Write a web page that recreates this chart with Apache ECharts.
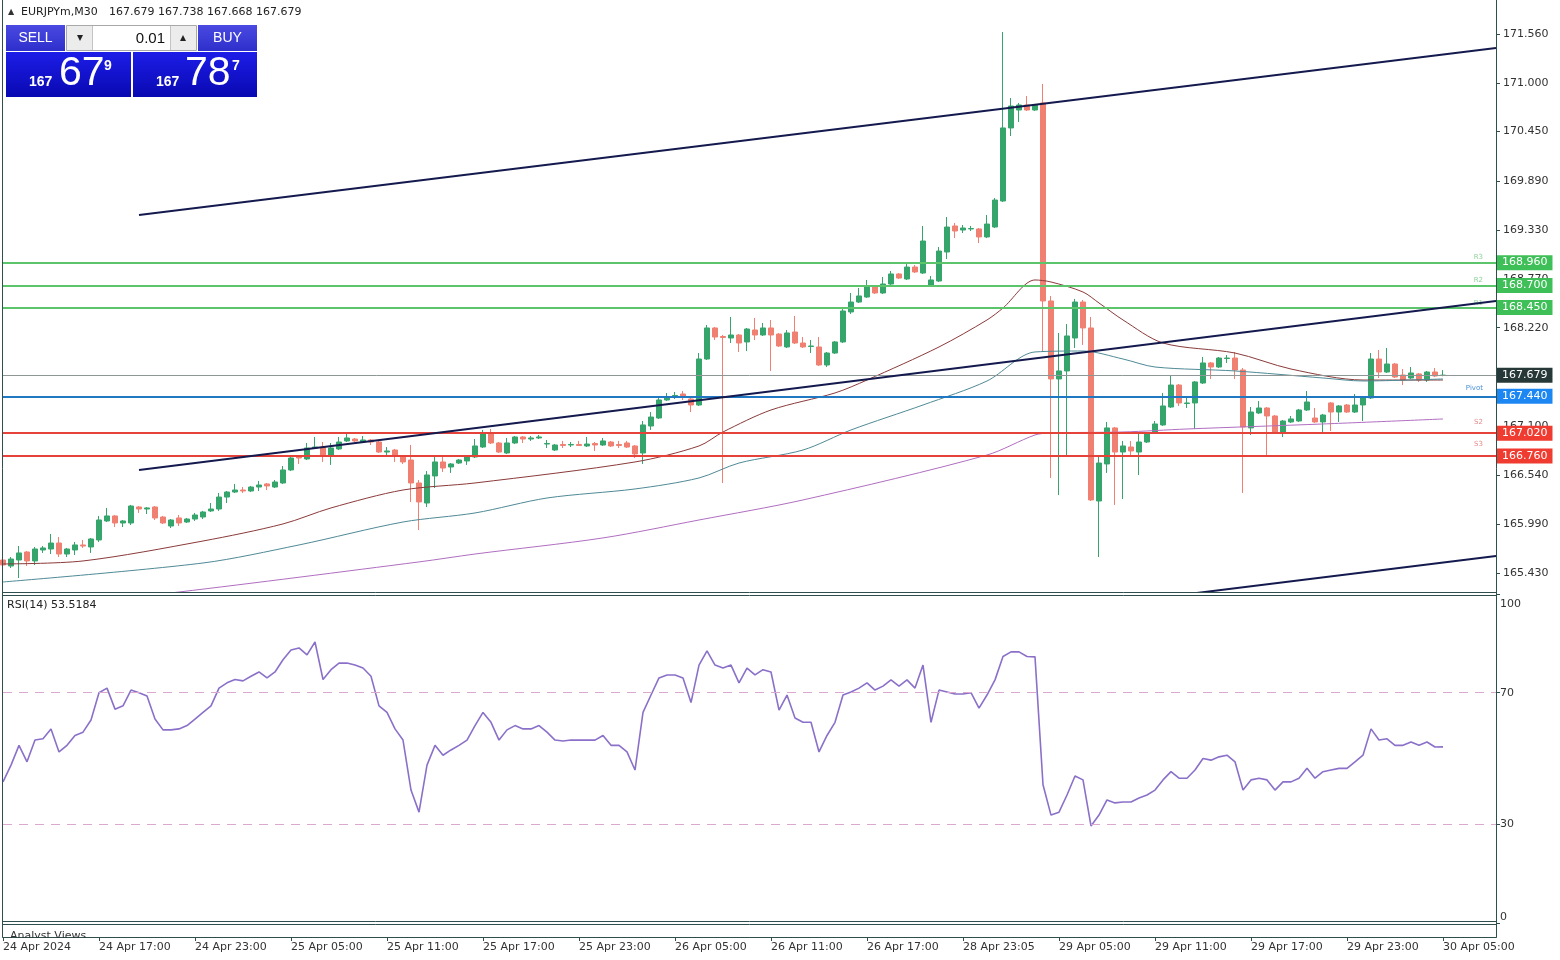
<!DOCTYPE html>
<html><head><meta charset="utf-8">
<script src="https://cdn.jsdelivr.net/npm/echarts@6/dist/echarts.min.js"></script>
<style>html,body{margin:0;padding:0;background:#fff}#chart{width:1560px;height:960px}</style>
</head><body><div id="chart"></div>
<script>
// ---- data ----
const symbol = 'EURJPYm,M30';
const bid = 167.679, ask = 167.787, lot = '0.01';
// candles: [open, close, low, high], one per 30-minute bar
const candles = [
[165.578,165.521,165.499,165.612],[165.510,165.589,165.487,165.612],[165.578,165.658,165.373,165.737],[165.669,165.567,165.510,165.680],
[165.567,165.703,165.521,165.726],[165.692,165.715,165.658,165.737],[165.703,165.771,165.646,165.874],[165.771,165.646,165.612,165.840],
[165.646,165.703,165.612,165.715],[165.692,165.749,165.635,165.783],[165.749,165.737,165.715,165.806],[165.726,165.817,165.658,165.828],
[165.806,166.033,165.783,166.079],[166.022,166.079,166.010,166.170],[166.079,165.999,165.953,166.090],[165.999,166.022,165.953,166.033],
[165.999,166.192,165.976,166.204],[166.181,166.158,166.113,166.192],[166.158,166.170,166.101,166.181],[166.181,166.056,166.033,166.192],
[166.067,165.999,165.988,166.079],[165.965,166.033,165.942,166.044],[166.056,165.999,165.965,166.090],[166.010,166.044,165.999,166.056],
[166.044,166.090,166.022,166.113],[166.067,166.124,166.044,166.136],[166.136,166.158,166.124,166.226],[166.158,166.294,166.136,166.340],
[166.294,166.351,166.226,166.363],[166.351,166.374,166.340,166.443],[166.374,166.363,166.340,166.408],[166.363,166.408,166.351,166.420],
[166.408,166.431,166.363,166.477],[166.443,166.420,166.374,166.454],[166.408,166.465,166.397,166.488],[166.454,166.602,166.443,166.647],
[166.602,166.738,166.590,166.750],[166.750,166.738,166.670,166.761],[166.727,166.852,166.715,166.909],[166.852,166.863,166.841,166.977],
[166.863,166.761,166.693,166.920],[166.772,166.852,166.659,166.909],[166.841,166.920,166.829,166.977],[166.932,166.966,166.920,167.023],
[166.954,166.932,166.920,166.966],[166.920,166.943,166.909,166.988],[166.943,166.920,166.886,166.954],[166.920,166.806,166.795,166.932],
[166.806,166.818,166.750,166.863],[166.829,166.761,166.693,166.841],[166.750,166.693,166.670,166.772],[166.715,166.454,166.238,166.886],
[166.454,166.238,165.919,166.488],[166.226,166.545,166.181,166.590],[166.534,166.693,166.397,166.750],[166.693,166.624,166.579,166.750],
[166.636,166.670,166.568,166.681],[166.681,166.715,166.670,166.727],[166.704,166.750,166.659,166.761],[166.750,166.875,166.738,166.954],
[166.863,167.023,166.852,167.057],[167.023,166.909,166.897,167.068],[166.909,166.806,166.795,166.920],[166.795,166.909,166.784,166.966],
[166.909,166.977,166.897,166.988],[166.977,166.954,166.909,166.988],[166.954,166.966,166.932,166.988],[166.966,166.977,166.954,167.000],
[166.897,166.903,166.852,166.943],[166.829,166.886,166.818,166.897],[166.892,166.880,166.852,166.932],[166.886,166.892,166.863,166.920],
[166.892,166.880,166.875,166.932],[166.875,166.897,166.863,166.977],[166.903,166.886,166.818,166.920],[166.886,166.932,166.875,166.966],
[166.920,166.875,166.863,166.932],[166.892,166.880,166.852,166.932],[166.909,166.863,166.852,166.932],[166.875,166.784,166.738,166.886],
[166.795,167.114,166.670,167.159],[167.102,167.204,167.057,167.261],[167.193,167.398,167.182,167.421],[167.398,167.432,167.386,167.477],
[167.443,167.449,167.409,167.489],[167.466,167.432,167.398,167.500],[167.409,167.341,167.261,167.421],[167.341,167.864,167.330,167.932],
[167.864,168.217,167.853,168.251],[168.217,168.114,168.080,168.228],[168.120,168.109,166.454,168.137],[168.103,168.137,168.046,168.342],
[168.137,168.046,167.944,168.148],[168.058,168.205,167.955,168.217],[168.194,168.137,168.080,168.330],[168.137,168.217,168.126,168.274],
[168.217,168.137,167.728,168.308],[168.148,168.012,168.001,168.160],[168.001,168.160,167.989,168.194],[168.171,168.046,168.035,168.353],
[168.046,168.001,167.989,168.114],[168.006,168.012,167.932,168.080],[168.001,167.796,167.785,168.114],[167.796,167.932,167.773,167.944],
[167.932,168.058,167.921,168.069],[168.058,168.410,168.046,168.456],[168.399,168.512,168.376,168.615],[168.512,168.581,168.501,168.672],
[168.569,168.683,168.558,168.763],[168.683,168.615,168.603,168.694],[168.615,168.717,168.603,168.797],[168.717,168.831,168.706,168.865],
[168.831,168.785,168.774,168.842],[168.774,168.910,168.763,168.945],[168.910,168.854,168.842,168.933],[168.842,169.206,168.831,169.377],
[168.706,168.763,168.694,168.808],[168.751,169.092,168.740,169.138],[169.081,169.365,169.001,169.479],[169.377,169.320,169.240,169.411],
[169.331,169.354,169.297,169.388],[169.343,169.348,169.320,169.377],[169.343,169.252,169.183,169.354],[169.252,169.399,169.240,169.502],
[169.365,169.672,169.354,169.695],[169.661,170.492,169.650,171.583],[170.492,170.741,170.400,170.832],[170.696,170.753,170.560,170.776],
[170.753,170.696,170.685,170.855],[170.696,170.753,170.685,170.764],[170.776,168.524,167.944,170.992],[168.524,167.637,166.511,168.581],
[167.637,167.728,166.317,168.160],[167.728,168.126,166.750,168.262],[168.103,168.512,167.989,168.547],[168.512,168.217,168.024,168.535],
[168.217,166.261,166.249,168.342],[166.249,166.681,165.612,166.772],[166.670,167.080,166.568,167.148],[167.080,166.806,166.204,167.091],
[166.806,166.875,166.272,166.932],[166.863,166.818,166.761,166.932],[166.806,166.920,166.545,167.023],[166.920,167.023,166.909,167.034],
[167.034,167.125,167.011,167.159],[167.114,167.330,167.102,167.478],[167.318,167.568,167.307,167.671],[167.568,167.364,167.330,167.580],
[167.358,167.364,167.307,167.421],[167.364,167.603,167.068,167.614],[167.591,167.819,167.580,167.887],[167.819,167.773,167.637,167.830],
[167.773,167.875,167.762,167.887],[167.870,167.875,167.819,167.909],[167.875,167.739,167.637,167.944],[167.739,167.091,166.340,167.762],
[167.080,167.261,167.000,167.318],[167.250,167.307,167.239,167.386],[167.307,167.216,166.761,167.318],[167.216,167.034,167.023,167.227],
[167.034,167.159,166.977,167.170],[167.148,167.182,167.136,167.216],[167.159,167.284,167.148,167.296],[167.284,167.375,167.273,167.500],
[167.193,167.148,167.136,167.307],[167.148,167.227,167.034,167.239],[167.364,167.261,167.045,167.375],[167.261,167.330,167.148,167.341],
[167.341,167.261,167.250,167.352],[167.261,167.341,167.250,167.466],[167.341,167.421,167.159,167.432],[167.421,167.864,167.409,167.932],
[167.864,167.716,167.648,167.966],[167.716,167.807,167.705,167.989],[167.807,167.659,167.648,167.819],[167.682,167.625,167.568,167.750],
[167.648,167.705,167.637,167.773],[167.694,167.625,167.603,167.705],[167.625,167.716,167.603,167.728],[167.716,167.671,167.659,167.762],
[167.679,167.679,167.668,167.738]
];
// RSI(14) per bar
const rsi = [
42.9,48,54,49,55.6,56,59,52,54,57, 58,61.7,70,71.4,65,66,70.8,70,69,62,
58.7,58.7,59,60,62,64,66,71.4,73,74, 73.6,75,76.3,74.5,76.3,80,83,83.6,81.5,85.4,
74,77,79,79,78.4,77.5,75,66,64,59, 55.6,40.4,33.7,48,54,51,52.6,54,55.6,60,
64,61,55.6,58.7,60,59,59,60,58,55.6, 55.3,55.6,55.6,55.6,55.6,57,54,54,52,46.5,
64,69.3,74.5,75.4,75.4,74.5,67,78.4,82.7,78.4, 77.5,78.4,73,77.5,75.4,77,76.3,64.7,69.3,62.3,
61,61,52,57,61,69.3,70.2,71.4,73,70.8, 72,73.9,72,73.9,71.4,78.4,61,70.8,70.2,69.6,
69.6,70,65.3,69.3,73.9,81,82.4,82.4,81,80.9, 42,32.8,33.7,38.9,44.7,43.5,29.5,32.8,37.4,36.5,
36.8,36.8,38,38.9,40.4,43.5,46,44,44,46.5, 50,49.5,50.5,51,49,40.4,43.5,44,43.5,40.4,
42.9,42.9,44,47,44,46,46.5,47,47,49, 51,59,55.6,56,54,54,55,54,55,53.5, 53.5184
];
const rsiLevels = [70, 30];
const rsiTicks = [0, 30, 70, 100];
// moving averages, read at bar indices
const maBrownIdx = [0,10,25,35,41,50,59,79,87,90,96,104,108,117,123,125,129,131,135,137,140,145,154,161,170,180];
const maBrownVal = [165.533,165.567,165.794,165.988,166.170,166.374,166.454,166.693,166.875,167.034,167.284,167.478,167.625,168.001,168.308,168.444,168.763,168.740,168.626,168.501,168.308,168.046,167.932,167.750,167.625,167.625];
const maTealIdx = [0,25,37,50,59,68,79,87,92,100,106,115,123,129,135,140,144,154,165,170,180];
const maTealVal = [165.328,165.544,165.749,166.010,166.113,166.283,166.386,166.511,166.681,166.829,167.057,167.341,167.614,167.944,167.955,167.864,167.773,167.728,167.648,167.614,167.637];
const maPurpleIdx = [15,22,52,59,75,87,100,123,129,131,140,148,165,180];
const maPurpleVal = [165.157,165.214,165.556,165.646,165.829,166.033,166.261,166.772,167.000,167.023,167.034,167.068,167.125,167.182];
// channel trend lines [barIndex, price]
const chanUpper = [[17,169.502],[186.625,171.401]];
const chanMiddle = [[17,166.602],[186.625,168.524]];
const chanLower = [[140,165.099],[186.625,165.624]];
// pivot levels
const levelNames = ['R3','R2','R1','Pivot','S2','S3'];
const levelValues = [168.960,168.700,168.450,167.440,167.020,166.760];
// axes
const priceTicks = [165.43,165.99,166.54,167.10,167.66,168.22,168.77,169.33,169.89,170.45,171.00,171.56];
const xTickIdx = [0,12,24,36,48,60,72,84,96,108,120,132,144,156,168,180];
const xTickLabels = ['24 Apr 2024','24 Apr 17:00','24 Apr 23:00','25 Apr 05:00','25 Apr 11:00','25 Apr 17:00','25 Apr 23:00','26 Apr 05:00','26 Apr 11:00','26 Apr 17:00','28 Apr 23:05','29 Apr 05:00','29 Apr 11:00','29 Apr 17:00','29 Apr 23:00','30 Apr 05:00'];

// ---- styling ----
const FONT = '"DejaVu Sans", Tahoma, sans-serif';
const FRAME = '#2F4F4F';
const BULL = '#36A56C', BEAR = '#F08072';
const GREEN_L = '#5CC46B', RED_L = '#E5423A', BLUE_L = '#1F78C1';
const XMIN = 0, XMAX = 186.625, YMIN = 165.214, YMAX = 171.913;

const levelColor = n => n[0] === 'R' ? GREEN_L : (n[0] === 'S' ? RED_L : BLUE_L);
const boxColor = n => n[0] === 'R' ? '#3FBF57' : (n[0] === 'S' ? '#EF3B30' : '#1C86F2');
const tagColor = n => n[0] === 'R' ? '#8ED39A' : (n[0] === 'S' ? '#E58C8C' : '#4A90D9');
const tagDist = {R3: 2, R2: 2, R1: 1, Pivot: 5, S2: 8, S3: 8};

const chart = echarts.init(document.getElementById('chart'), null, {renderer: 'canvas'});
const pairs = (idx, val) => idx.map((x, k) => [x, val[k]]);
const last = candles[candles.length - 1];

const boxLabel = (bg, v) => ({
  show: true, position: 'end', distance: 1, formatter: v.toFixed(3),
  backgroundColor: bg, color: '#fff', fontFamily: FONT, fontSize: 11, lineHeight: 12,
  padding: [2, 5, 1, 5]
});

const levelLines = levelNames.map((n, k) => ({
  yAxis: levelValues[k],
  lineStyle: {color: levelColor(n), width: 2, type: 'solid'},
  label: boxLabel(boxColor(n), levelValues[k])
}));
levelLines.push({
  yAxis: bid, lineStyle: {color: '#8f9696', width: 1, type: 'solid'},
  label: boxLabel('#263838', bid)
});
const tagLines = levelNames.map((n, k) => ({
  yAxis: levelValues[k],
  label: {show: true, position: 'insideEndTop', formatter: n, distance: [13, tagDist[n]],
    color: tagColor(n), fontSize: 7, fontFamily: FONT}
}));

const splitBid = s => [s.slice(0, 3), s.slice(4, 6), s.slice(6)];
const bidParts = splitBid(bid.toFixed(3)), askParts = splitBid(ask.toFixed(3));

const btnGrad = () => new echarts.graphic.LinearGradient(0, 0, 0, 1, [{offset: 0, color: '#4a4ae2'}, {offset: 1, color: '#2e2ecb'}]);
const boxGrad = () => new echarts.graphic.LinearGradient(0, 0, 0, 1, [{offset: 0, color: '#1d1de8'}, {offset: 1, color: '#0909b2'}]);
const txt = (x, y, text, font, fill, align) => ({type: 'text', x, y, z: 101,
  style: {text, font, fill: fill || '#fff', textAlign: align || 'left', textVerticalAlign: 'middle'}});

const graphics = [
  {type: 'rect', z: 50, silent: true, shape: {x: 2.5, y: -1, width: 1494, height: 938.5}, style: {fill: 'none', stroke: FRAME, lineWidth: 1}},
  {type: 'line', z: 50, shape: {x1: 2, y1: 592.5, x2: 1497, y2: 592.5}, style: {stroke: FRAME, lineWidth: 1}},
  {type: 'line', z: 50, shape: {x1: 2, y1: 595.5, x2: 1497, y2: 595.5}, style: {stroke: FRAME, lineWidth: 1}},
  {type: 'rect', z: 49, shape: {x: 3, y: 593, width: 1493, height: 2}, style: {fill: '#fff'}},
  {type: 'line', z: 50, shape: {x1: 2, y1: 921.5, x2: 1497, y2: 921.5}, style: {stroke: FRAME, lineWidth: 1}},
  {type: 'line', z: 50, shape: {x1: 2, y1: 924.5, x2: 1497, y2: 924.5}, style: {stroke: FRAME, lineWidth: 1}},
  {type: 'rect', z: 49, shape: {x: 3, y: 922, width: 1493, height: 2}, style: {fill: '#fff'}},
  // header
  {type: 'text', x: 8, y: 12, z: 101, style: {text: '\u25B2', font: '8px ' + FONT, fill: '#333', textVerticalAlign: 'middle'}},
  {type: 'text', x: 21, y: 12, z: 101, style: {text: symbol, font: '11px ' + FONT, fill: '#222', textVerticalAlign: 'middle'}},
  {type: 'text', x: 109, y: 12, z: 101, style: {text: [last[0], last[3], last[2], last[1]].map(v => v.toFixed(3)).join(' '), font: '11px ' + FONT, fill: '#222', textVerticalAlign: 'middle'}},
  // one click trading panel
  {type: 'rect', z: 100, shape: {x: 6, y: 25, width: 59, height: 26}, style: {fill: btnGrad()}},
  {type: 'rect', z: 100, shape: {x: 198, y: 25, width: 59, height: 26}, style: {fill: btnGrad()}},
  {type: 'rect', z: 100, shape: {x: 66.5, y: 25.5, width: 130, height: 25}, style: {fill: '#ececec', stroke: '#a9a9a9', lineWidth: 1}},
  {type: 'rect', z: 100, shape: {x: 93, y: 26, width: 77, height: 24}, style: {fill: '#fff'}},
  {type: 'line', z: 100, shape: {x1: 92.5, y1: 26, x2: 92.5, y2: 50}, style: {stroke: '#c4c4c4'}},
  {type: 'line', z: 100, shape: {x1: 170.5, y1: 26, x2: 170.5, y2: 50}, style: {stroke: '#c4c4c4'}},
  {type: 'rect', z: 100, shape: {x: 6, y: 52, width: 125, height: 45}, style: {fill: boxGrad()}},
  {type: 'rect', z: 100, shape: {x: 133, y: 52, width: 124, height: 45}, style: {fill: boxGrad()}},
  txt(35.5, 38.5, 'SELL', '14px "Liberation Sans", Arial, sans-serif', '#fff', 'center'),
  txt(227.5, 38.5, 'BUY', '14px "Liberation Sans", Arial, sans-serif', '#fff', 'center'),
  txt(80, 38, '\u25BE', '12px ' + FONT, '#222', 'center'),
  txt(183, 38, '\u25B4', '12px ' + FONT, '#222', 'center'),
  txt(165, 38.5, lot, '15px "Liberation Sans", Arial, sans-serif', '#111', 'right'),
  txt(29, 82, bidParts[0], 'bold 14px "Liberation Sans", Arial, sans-serif'),
  txt(59, 74, bidParts[1], '41px "Liberation Sans", Arial, sans-serif'),
  txt(104, 66, bidParts[2], 'bold 14px "Liberation Sans", Arial, sans-serif'),
  txt(156, 82, askParts[0], 'bold 14px "Liberation Sans", Arial, sans-serif'),
  txt(185, 74, askParts[1], '41px "Liberation Sans", Arial, sans-serif'),
  txt(232, 66, askParts[2], 'bold 14px "Liberation Sans", Arial, sans-serif'),
  // RSI title
  {type: 'text', x: 7, y: 605, z: 101, style: {text: 'RSI(14) ' + rsi[rsi.length - 1].toFixed(4), font: '11px ' + FONT, fill: '#222', textVerticalAlign: 'middle'}},
  // Analyst Views panel title (cut by the panel bottom)
  {type: 'text', x: 10, y: 936, z: 60, style: {text: 'Analyst Views', font: '11px ' + FONT, fill: '#333', textVerticalAlign: 'middle'}},
  {type: 'rect', z: 61, shape: {x: 4, y: 938, width: 92, height: 3.5}, style: {fill: '#fff'}}
];

const option = {
  animation: false,
  backgroundColor: '#ffffff',
  textStyle: {fontFamily: FONT},
  grid: [
    {left: 3, top: 3, width: 1493, height: 589},
    {left: 3, top: 594, width: 1493, height: 329},
    {left: 3, top: 925, width: 1493, height: 12}
  ],
  xAxis: [
    {gridIndex: 0, type: 'value', min: XMIN, max: XMAX, show: false, axisLine: {onZero: false}},
    {gridIndex: 1, type: 'value', min: XMIN, max: XMAX, show: false, axisLine: {onZero: false}},
    {gridIndex: 2, type: 'value', min: XMIN, max: XMAX,
      axisLine: {show: true, onZero: false, lineStyle: {color: FRAME, width: 1}},
      axisTick: {show: true, customValues: xTickIdx, length: 4, lineStyle: {color: FRAME}},
      axisLabel: {customValues: xTickIdx, formatter: v => xTickLabels[xTickIdx.indexOf(v)],
        align: 'left', margin: 5, fontSize: 11, color: '#333', fontFamily: FONT},
      splitLine: {show: false}}
  ],
  yAxis: [
    {gridIndex: 0, type: 'value', position: 'right', min: YMIN, max: YMAX,
      axisLine: {show: false, onZero: false},
      axisTick: {show: true, customValues: priceTicks, length: 4, lineStyle: {color: FRAME}},
      axisLabel: {customValues: priceTicks, formatter: v => v.toFixed(3), margin: 7, fontSize: 11, color: '#333', fontFamily: FONT},
      splitLine: {show: false}},
    {gridIndex: 1, type: 'value', position: 'right', min: 0, max: 100,
      axisLine: {show: false, onZero: false},
      axisTick: {show: true, customValues: rsiTicks, length: 4, lineStyle: {color: FRAME}},
      axisLabel: {customValues: rsiTicks, margin: 4, fontSize: 11, color: '#333', fontFamily: FONT,
        formatter: v => v === 100 ? '{t|100}' : String(v),
        rich: {t: {padding: [5, 0, 0, 0], fontSize: 11, color: '#333', fontFamily: FONT}},
        verticalAlignMaxLabel: 'top', verticalAlignMinLabel: 'bottom'},
      splitLine: {show: false}},
    {gridIndex: 2, type: 'value', min: 0, max: 1, show: false, axisLine: {onZero: false}}
  ],
  graphic: graphics,
  series: [
    {name: 'levels', type: 'line', xAxisIndex: 0, yAxisIndex: 0, data: [], z: 1,
      markLine: {silent: true, symbol: 'none', animation: false, data: levelLines}},
    {name: 'tags', type: 'line', xAxisIndex: 0, yAxisIndex: 0, data: [], z: 1,
      markLine: {silent: true, symbol: 'none', animation: false, lineStyle: {color: 'rgba(0,0,0,0)', width: 0}, data: tagLines}},
    {name: 'price', type: 'candlestick', xAxisIndex: 0, yAxisIndex: 0, z: 3, barWidth: 5, clip: true,
      data: candles.map((c, i) => [i, c[0], c[1], c[2], c[3]]),
      itemStyle: {color: BULL, color0: BEAR, borderColor: BULL, borderColor0: BEAR, borderWidth: 1, borderColorDoji: BULL}},
    {name: 'MA1', type: 'line', xAxisIndex: 0, yAxisIndex: 0, z: 4, symbol: 'none', smooth: 0.3,
      data: pairs(maBrownIdx, maBrownVal), lineStyle: {color: '#8B3A3A', width: 1}},
    {name: 'MA2', type: 'line', xAxisIndex: 0, yAxisIndex: 0, z: 4, symbol: 'none', smooth: 0.3,
      data: pairs(maTealIdx, maTealVal), lineStyle: {color: '#4F8A96', width: 1}},
    {name: 'MA3', type: 'line', xAxisIndex: 0, yAxisIndex: 0, z: 4, symbol: 'none', smooth: 0.3,
      data: pairs(maPurpleIdx, maPurpleVal), lineStyle: {color: '#B06EC0', width: 1}},
    ...[chanUpper, chanMiddle, chanLower].map(d => ({type: 'line', xAxisIndex: 0, yAxisIndex: 0, z: 5, symbol: 'none',
      data: d, lineStyle: {color: '#141A4E', width: 2}})),
    {name: 'RSI', type: 'line', xAxisIndex: 1, yAxisIndex: 1, z: 3, symbol: 'none',
      data: rsi.map((v, i) => [i, v]), lineStyle: {color: '#8A70C8', width: 1.6},
      markLine: {silent: true, symbol: 'none', label: {show: false}, animation: false,
        lineStyle: {color: '#D9A9CF', width: 1, type: [9, 7]},
        data: rsiLevels.map(v => ({yAxis: v}))}}
  ]
};
chart.setOption(option);
</script></body></html>
